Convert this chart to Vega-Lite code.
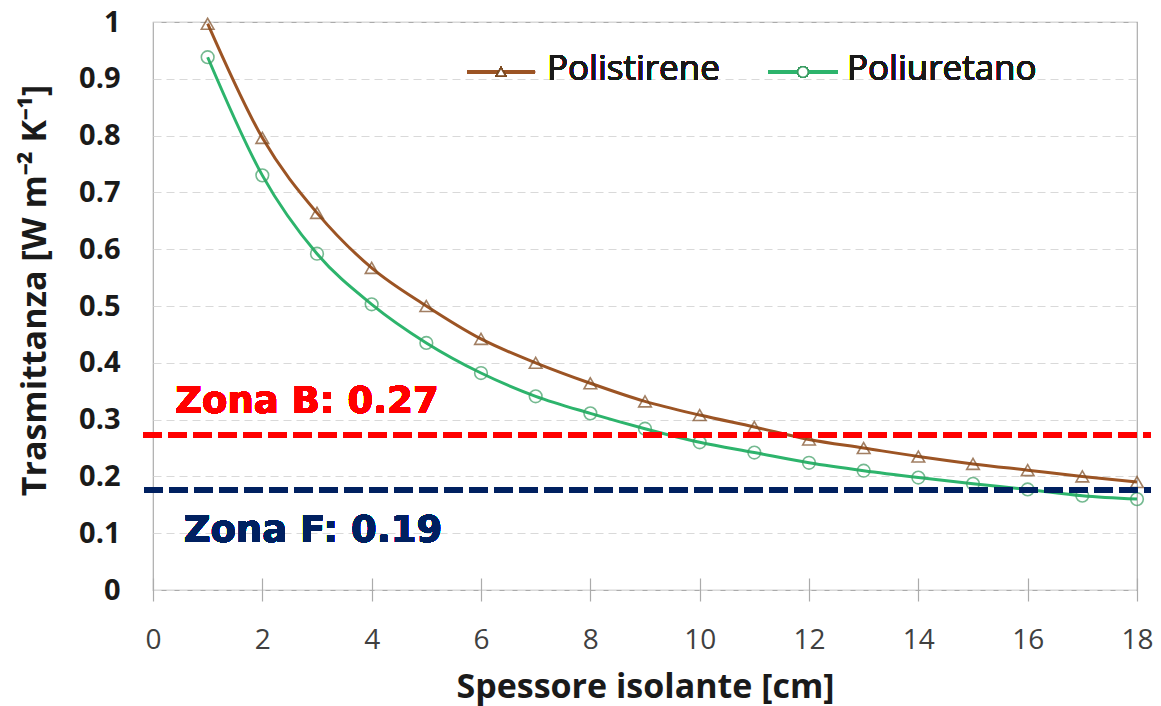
{
  "$schema": "https://vega.github.io/schema/vega-lite/v6.json",
  "width": 984,
  "height": 568,
  "autosize": {"type": "none"},
  "padding": {"left": 153, "top": 22, "right": 24, "bottom": 116},
  "background": "#ffffff",
  "config": {
    "view": {"stroke": "#ABABAB", "strokeWidth": 1.2},
    "font": "Open Sans"
  },
  "data": {
    "values": [
      {"spessore": 1, "materiale": "Polistirene", "U": 0.997},
      {"spessore": 2, "materiale": "Polistirene", "U": 0.796},
      {"spessore": 3, "materiale": "Polistirene", "U": 0.664},
      {"spessore": 4, "materiale": "Polistirene", "U": 0.567},
      {"spessore": 5, "materiale": "Polistirene", "U": 0.5},
      {"spessore": 6, "materiale": "Polistirene", "U": 0.442},
      {"spessore": 7, "materiale": "Polistirene", "U": 0.4},
      {"spessore": 8, "materiale": "Polistirene", "U": 0.364},
      {"spessore": 9, "materiale": "Polistirene", "U": 0.332},
      {"spessore": 10, "materiale": "Polistirene", "U": 0.308},
      {"spessore": 11, "materiale": "Polistirene", "U": 0.287},
      {"spessore": 12, "materiale": "Polistirene", "U": 0.265},
      {"spessore": 13, "materiale": "Polistirene", "U": 0.25},
      {"spessore": 14, "materiale": "Polistirene", "U": 0.235},
      {"spessore": 15, "materiale": "Polistirene", "U": 0.222},
      {"spessore": 16, "materiale": "Polistirene", "U": 0.211},
      {"spessore": 17, "materiale": "Polistirene", "U": 0.2},
      {"spessore": 18, "materiale": "Polistirene", "U": 0.19},
      {"spessore": 1, "materiale": "Poliuretano", "U": 0.938},
      {"spessore": 2, "materiale": "Poliuretano", "U": 0.73},
      {"spessore": 3, "materiale": "Poliuretano", "U": 0.592},
      {"spessore": 4, "materiale": "Poliuretano", "U": 0.503},
      {"spessore": 5, "materiale": "Poliuretano", "U": 0.435},
      {"spessore": 6, "materiale": "Poliuretano", "U": 0.382},
      {"spessore": 7, "materiale": "Poliuretano", "U": 0.341},
      {"spessore": 8, "materiale": "Poliuretano", "U": 0.311},
      {"spessore": 9, "materiale": "Poliuretano", "U": 0.284},
      {"spessore": 10, "materiale": "Poliuretano", "U": 0.26},
      {"spessore": 11, "materiale": "Poliuretano", "U": 0.242},
      {"spessore": 12, "materiale": "Poliuretano", "U": 0.224},
      {"spessore": 13, "materiale": "Poliuretano", "U": 0.21},
      {"spessore": 14, "materiale": "Poliuretano", "U": 0.198},
      {"spessore": 15, "materiale": "Poliuretano", "U": 0.187},
      {"spessore": 16, "materiale": "Poliuretano", "U": 0.177},
      {"spessore": 17, "materiale": "Poliuretano", "U": 0.166},
      {"spessore": 18, "materiale": "Poliuretano", "U": 0.16}
    ]
  },
  "encoding": {
    "x": {
      "field": "spessore",
      "type": "quantitative",
      "scale": {"domain": [0, 18], "nice": false, "zero": false},
      "axis": {
        "title": "Spessore isolante [cm]",
        "values": [0, 2, 4, 6, 8, 10, 12, 14, 16, 18],
        "grid": false,
        "domain": false,
        "offset": -12,
        "ticks": true,
        "tickSize": 23,
        "tickColor": "#ABABAB",
        "tickWidth": 1.2,
        "labelFont": "Open Sans",
        "labelFontSize": 28,
        "labelColor": "#404040",
        "labelBaseline": "alphabetic",
        "labelPadding": 47,
        "labelFlush": false,
        "titleFont": "Open Sans",
        "titleFontSize": 34,
        "titleFontWeight": "bold",
        "titleColor": "#1a1a1a",
        "titleBaseline": "alphabetic",
        "titleY": 119,
        "titleX": 492,
        "titleAnchor": "middle"
      }
    },
    "y": {
      "field": "U",
      "type": "quantitative",
      "scale": {"domain": [0, 1], "nice": false},
      "axis": {
        "title": "Trasmittanza [W m⁻² K⁻¹]",
        "values": [0, 0.1, 0.2, 0.3, 0.4, 0.5, 0.6, 0.7, 0.8, 0.9, 1],
        "format": "~g",
        "grid": true,
        "gridColor": "#D9D9D9",
        "gridDash": [8, 5],
        "gridWidth": 1.2,
        "domain": false,
        "ticks": false,
        "tickSize": 0,
        "labelFont": "Open Sans",
        "labelFontSize": 29,
        "labelFontWeight": "bold",
        "labelColor": "#1a1a1a",
        "labelPadding": 33,
        "labelBaseline": "middle",
        "titleFont": "Open Sans",
        "titleFontSize": 34,
        "titleFontWeight": "bold",
        "titleColor": "#1a1a1a",
        "titleAngle": 270,
        "titleBaseline": "alphabetic",
        "titleAlign": "center",
        "titleX": -108,
        "titleY": 268
      }
    }
  },
  "layer": [
    {
      "mark": {"type": "line", "interpolate": "monotone", "strokeWidth": 3},
      "encoding": {
        "color": {
          "field": "materiale",
          "type": "nominal",
          "scale": {"domain": ["Polistirene", "Poliuretano"], "range": ["#9C5424", "#2DB46C"]},
          "legend": null
        }
      }
    },
    {
      "mark": {"type": "point", "filled": false, "strokeWidth": 1.6, "size": 160, "fill": "transparent"},
      "encoding": {
        "stroke": {
          "field": "materiale",
          "type": "nominal",
          "scale": {"domain": ["Polistirene", "Poliuretano"], "range": ["#7B4A22", "#3A9C62"]},
          "legend": null
        },
        "shape": {
          "field": "materiale",
          "type": "nominal",
          "scale": {"domain": ["Polistirene", "Poliuretano"], "range": ["triangle-up", "circle"]},
          "legend": null
        }
      }
    },
    {
      "mark": {"type": "rule", "stroke": "#FF0000", "strokeWidth": 5.5, "strokeDash": [18, 7]},
      "encoding": {
        "x": {"datum": -0.18},
        "x2": {"datum": 18.24},
        "y": {"datum": 0.273}
      }
    },
    {
      "mark": {"type": "rule", "stroke": "#002060", "strokeWidth": 5.5, "strokeDash": [18, 7]},
      "encoding": {
        "x": {"datum": -0.15},
        "x2": {"datum": 18.24},
        "y": {"datum": 0.176}
      }
    },
    {
      "mark": {"type": "text", "text": "Zona B: 0.27", "font": "DejaVu Sans", "fontWeight": "bold", "fontSize": 37, "fill": "#FF0000", "align": "center", "baseline": "alphabetic"},
      "encoding": {
        "x": {"datum": 2.817},
        "y": {"datum": 0.3116}
      }
    },
    {
      "mark": {"type": "text", "text": "Zona F: 0.19", "font": "DejaVu Sans", "fontWeight": "bold", "fontSize": 37, "fill": "#002060", "align": "center", "baseline": "alphabetic"},
      "encoding": {
        "x": {"datum": 2.926},
        "y": {"datum": 0.0845}
      }
    },
    {
      "mark": {"type": "rule", "stroke": "#9C5424", "strokeWidth": 3},
      "encoding": {
        "x": {"datum": 5.744},
        "x2": {"datum": 6.988},
        "y": {"datum": 0.912}
      }
    },
    {
      "mark": {"type": "point", "shape": "triangle-up", "filled": false, "fill": "#ffffff", "stroke": "#7B4A22", "strokeWidth": 1.5, "size": 90, "opacity": 1},
      "encoding": {
        "x": {"datum": 6.366},
        "y": {"datum": 0.912}
      }
    },
    {
      "mark": {"type": "text", "text": "Polistirene", "font": "Open Sans", "fontSize": 35, "fill": "#1a1a1a", "align": "left", "baseline": "alphabetic"},
      "encoding": {
        "x": {"datum": 7.207},
        "y": {"datum": 0.8979}
      }
    },
    {
      "mark": {"type": "rule", "stroke": "#2DB46C", "strokeWidth": 3},
      "encoding": {
        "x": {"datum": 11.25},
        "x2": {"datum": 12.53},
        "y": {"datum": 0.912}
      }
    },
    {
      "mark": {"type": "point", "shape": "circle", "filled": false, "fill": "#ffffff", "stroke": "#3A9C62", "strokeWidth": 1.5, "size": 110, "opacity": 1},
      "encoding": {
        "x": {"datum": 11.89},
        "y": {"datum": 0.912}
      }
    },
    {
      "mark": {"type": "text", "text": "Poliuretano", "font": "Open Sans", "fontSize": 35, "fill": "#1a1a1a", "align": "left", "baseline": "alphabetic"},
      "encoding": {
        "x": {"datum": 12.695},
        "y": {"datum": 0.8979}
      }
    }
  ]
}
